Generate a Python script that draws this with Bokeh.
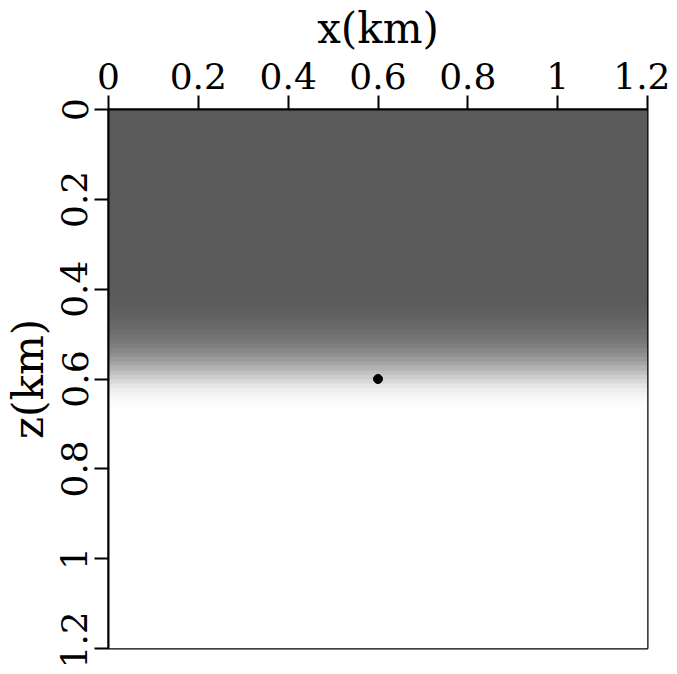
import numpy as np
from bokeh.plotting import figure
from bokeh.models import Range1d, FixedTicker, LinearColorMapper
from bokeh.embed import file_html
from bokeh.resources import INLINE

# ---- data ----
x_extent = [0.0, 1.2]            # km
z_extent = [0.0, 1.2]            # km
tick_values = [0, 0.2, 0.4, 0.6, 0.8, 1.0, 1.2]
tick_labels = ["0", "0.2", "0.4", "0.6", "0.8", "1", "1.2"]

# gray level (0-255) of the model vs depth, read every 0.01 km in the transition
top_gray = 91
bottom_gray = 255
profile_depths = [0.40, 0.41, 0.42, 0.43, 0.44, 0.45, 0.46, 0.47, 0.48, 0.49,
                  0.50, 0.51, 0.52, 0.53, 0.54, 0.55, 0.56, 0.57, 0.58, 0.59,
                  0.60, 0.61, 0.62, 0.63, 0.64, 0.65, 0.66, 0.67, 0.68, 0.69, 0.70]
profile_gray = [91, 91, 92, 93, 95, 97, 99, 102, 106, 110,
                114, 119, 126, 134, 143, 154, 166, 179, 192, 205,
                217, 228, 237, 244, 249, 252, 254, 255, 255, 255, 255]

source_x = [0.6]
source_z = [0.6]

# ---- build image rows from the read profile ----
dz = 0.01
nz = int(round((z_extent[1] - z_extent[0]) / dz))
rows = []
lookup = dict(zip([round(d, 2) for d in profile_depths], profile_gray))
for i in range(nz):
    d = round(i * dz, 2)
    if d in lookup:
        rows.append(lookup[d])
    elif d < profile_depths[0]:
        rows.append(top_gray)
    else:
        rows.append(bottom_gray)
img = np.repeat(np.array(rows, dtype=float)[:, None], 4, axis=1)

palette = ["#%02x%02x%02x" % (g, g, g) for g in range(256)]
mapper = LinearColorMapper(palette=palette, low=0, high=255)

FONT = "DejaVu Serif"

p = figure(
    output_backend="svg", toolbar_location=None,
    frame_width=539, frame_height=539,
    x_range=Range1d(x_extent[0], x_extent[1]),
    y_range=Range1d(z_extent[1], z_extent[0]),
    x_axis_location="above",
    min_border_left=10, min_border_top=10, min_border_right=23, min_border_bottom=20,
    background_fill_color="white", border_fill_color="white",
)
p.image(image=[img], x=x_extent[0], y=z_extent[0],
        dw=x_extent[1] - x_extent[0], dh=z_extent[1] - z_extent[0],
        color_mapper=mapper)
p.scatter(source_x, source_z, size=9, color="black")

p.grid.visible = False
p.outline_line_color = "black"
p.outline_line_width = 2

for ax in (p.xaxis[0], p.yaxis[0]):
    ax.ticker = FixedTicker(ticks=tick_values)
    ax.major_label_overrides = {v: l for v, l in zip(tick_values, tick_labels)}
    ax.minor_tick_line_color = None
    ax.major_tick_out = 14
    ax.major_tick_in = 0
    ax.major_tick_line_width = 2
    ax.axis_line_width = 2
    ax.major_label_text_font = FONT
    ax.major_label_text_font_size = "36px"
    ax.major_label_text_color = "black"
    ax.axis_label_text_font = FONT
    ax.axis_label_text_font_size = "42px"
    ax.axis_label_text_font_style = "normal"
    ax.axis_label_text_color = "black"
    ax.major_label_standoff = 7

p.xaxis.axis_label_standoff = 7
p.yaxis.axis_label_standoff = 6
p.xaxis.axis_label = "x(km)"
p.yaxis.axis_label = "z(km)"
p.yaxis.major_label_orientation = "vertical"

open("out.html", "w").write(file_html(p, INLINE))
